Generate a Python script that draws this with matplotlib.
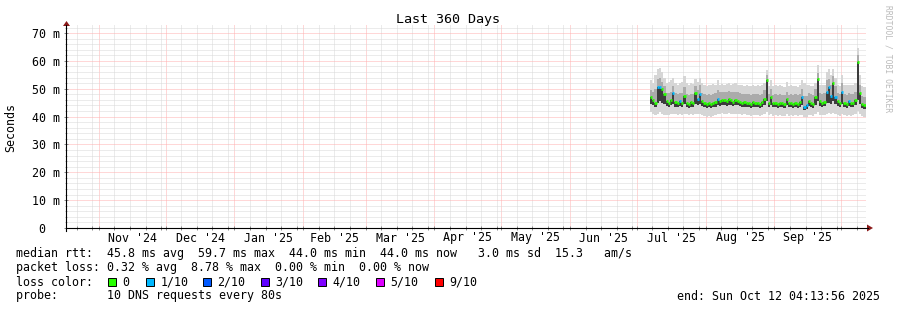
import numpy as np
import pandas as pd
import matplotlib
matplotlib.use("Agg")
import matplotlib.pyplot as plt
import matplotlib.dates as mdates
from matplotlib.patches import Rectangle, Polygon
from matplotlib.lines import Line2D
from matplotlib.transforms import Affine2D, blended_transform_factory
from datetime import datetime

# Graph window
graph_end = datetime(2025, 10, 12, 4, 13, 56)
graph_start = datetime(2024, 10, 17, 4, 13, 56)
first_day = "2025-07-07"

# Daily median rtt (ms) and smoke spread (ms)
median = [46.9, 46.0, 45.0, 50.5, 50.8, 50.0, 48.0, 45.5, 45.0, 45.8,
          48.5, 45.2, 44.8, 45.5, 45.0, 47.5, 45.0, 44.6, 45.2, 44.8,
          48.5, 46.5, 48.0, 45.5, 44.8, 44.5, 44.8, 44.6, 44.9, 45.2,
          46.5, 45.5, 45.8, 46.0, 45.6, 46.2, 45.8, 45.4, 46.0, 45.7,
          45.3, 45.0, 45.2, 44.8, 45.0, 44.7, 45.1, 44.9, 45.0, 44.6,
          45.2, 46.5, 53.0, 45.0, 47.0, 44.8, 44.9, 44.7, 45.0, 44.8,
          44.6, 46.5, 44.8, 45.0, 44.7, 44.9, 44.6, 45.2, 47.0, 43.5,
          44.0, 45.5, 45.0, 44.7, 47.0, 53.5, 45.5, 45.0, 45.3, 49.0,
          50.5, 47.5, 52.0, 47.0, 45.5, 44.8, 48.7, 45.0, 44.6, 45.5,
          44.8, 45.0, 46.0, 59.7, 48.4, 44.5, 44.0]
q_low = [44.5, 44.0, 43.5, 45.0, 45.5, 45.0, 44.5, 43.8, 43.5, 44.0,
         44.5, 43.6, 43.3, 43.8, 43.5, 44.5, 43.5, 43.2, 43.6, 43.3,
         44.5, 44.0, 44.5, 43.8, 43.3, 43.0, 43.3, 43.2, 43.4, 43.6,
         44.0, 43.8, 44.0, 44.2, 43.9, 44.3, 44.0, 43.8, 44.2, 44.0,
         43.7, 43.5, 43.6, 43.3, 43.5, 43.2, 43.5, 43.4, 43.5, 43.2,
         43.6, 44.0, 45.5, 43.5, 44.0, 43.3, 43.4, 43.2, 43.5, 43.3,
         43.2, 44.0, 43.3, 43.5, 43.2, 43.4, 43.2, 43.6, 44.0, 42.5,
         42.8, 43.8, 43.5, 43.2, 44.0, 45.5, 43.8, 43.5, 43.7, 45.0,
         45.0, 44.5, 45.5, 44.5, 43.8, 43.3, 44.5, 43.5, 43.2, 43.8,
         43.3, 43.5, 44.0, 46.0, 44.5, 43.0, 42.8]
q_high = [49.5, 49.0, 50.0, 53.5, 54.0, 52.5, 51.0, 48.5, 48.5, 49.0,
          51.0, 48.5, 48.0, 48.5, 48.5, 50.5, 48.0, 47.8, 48.2, 48.0,
          51.0, 49.5, 51.5, 48.5, 48.0, 47.8, 48.0, 47.8, 48.2, 48.5,
          49.5, 48.8, 49.0, 49.0, 48.8, 49.2, 49.0, 48.8, 49.0, 48.8,
          48.5, 48.3, 48.2, 48.0, 48.0, 47.8, 48.2, 48.0, 48.0, 47.8,
          48.3, 49.5, 55.0, 48.2, 50.0, 47.8, 48.0, 47.8, 48.0, 47.8,
          47.6, 49.0, 47.8, 48.0, 47.8, 48.0, 47.6, 48.2, 50.0, 47.5,
          47.5, 48.5, 48.0, 47.8, 50.0, 55.5, 48.5, 48.0, 48.5, 53.0,
          53.5, 51.5, 54.5, 51.0, 48.5, 48.0, 52.0, 48.2, 47.8, 48.5,
          48.0, 48.2, 49.0, 62.0, 51.5, 47.5, 47.0]
smoke_max = [53.0, 52.0, 55.0, 57.0, 57.5, 56.0, 54.0, 52.0, 52.5, 53.0,
             54.0, 52.0, 51.5, 52.0, 52.5, 54.5, 52.0, 51.5, 52.0, 51.8,
             53.5, 52.5, 54.0, 52.0, 51.5, 51.0, 51.5, 51.2, 51.8, 51.5,
             53.0, 51.5, 51.8, 51.5, 51.8, 52.0, 51.5, 51.8, 52.0, 51.5,
             51.5, 51.2, 51.0, 51.2, 51.0, 51.0, 51.2, 51.0, 51.2, 51.0,
             51.5, 52.0, 56.7, 51.0, 53.0, 51.0, 51.2, 51.0, 51.2, 51.0,
             50.8, 52.5, 51.0, 51.2, 51.0, 51.0, 50.8, 51.2, 53.0, 52.0,
             51.5, 51.2, 51.0, 51.0, 52.0, 58.5, 51.5, 51.5, 51.5, 56.0,
             57.0, 55.0, 57.0, 54.0, 51.5, 51.0, 55.0, 51.5, 51.2, 51.5,
             51.2, 51.5, 52.0, 64.6, 55.0, 51.0, 50.5]
smoke_min = [41.5, 41.0, 40.5, 41.0, 41.5, 41.0, 40.5, 40.5, 40.5, 41.0,
             41.0, 40.8, 40.5, 41.0, 40.5, 41.0, 40.8, 40.5, 40.8, 40.5,
             41.0, 40.8, 41.0, 40.5, 40.2, 40.0, 40.2, 40.0, 40.3, 40.5,
             40.8, 41.0, 41.2, 41.0, 41.0, 41.2, 41.0, 40.8, 41.0, 41.0,
             40.8, 40.6, 40.8, 40.5, 40.6, 40.4, 40.6, 40.5, 40.6, 40.4,
             40.7, 41.0, 41.5, 40.5, 40.8, 40.4, 40.5, 40.3, 40.5, 40.4,
             40.3, 40.8, 40.4, 40.5, 40.3, 40.5, 40.2, 40.6, 40.5, 39.8,
             40.0, 40.6, 40.5, 40.3, 40.8, 41.5, 40.6, 40.5, 40.6, 41.0,
             41.2, 41.0, 41.2, 40.8, 40.6, 40.4, 40.8, 40.5, 40.3, 40.6,
             40.4, 40.5, 40.8, 42.0, 41.0, 40.3, 40.0]
# lost pings out of 10 per day
loss = [0, 0, 0, 1, 1, 0, 0, 0, 0, 0,
        1, 0, 0, 1, 0, 0, 0, 0, 0, 0,
        0, 1, 1, 0, 0, 0, 0, 0, 0, 0,
        1, 0, 0, 0, 0, 0, 0, 0, 0, 0,
        0, 0, 0, 0, 0, 0, 0, 0, 0, 0,
        0, 0, 0, 0, 0, 0, 0, 0, 0, 0,
        0, 0, 0, 0, 0, 0, 0, 0, 1, 1,
        1, 0, 0, 0, 0, 0, 0, 0, 0, 1,
        1, 1, 0, 1, 0, 0, 1, 0, 0, 1,
        0, 0, 0, 0, 0, 0, 0]

loss_labels = ["0", "1/10", "2/10", "3/10", "4/10", "5/10", "9/10"]
loss_colors = ["#26ff00", "#00b8ff", "#0059ff", "#5e00ff", "#7e00ff", "#dd00ff", "#ff0000"]
loss_box_x = [108, 146, 203, 261, 318, 376, 435]

median_line = "median rtt:  45.8 ms avg  59.7 ms max  44.0 ms min  44.0 ms now   3.0 ms sd  15.3   am/s"
loss_line = "packet loss: 0.32 % avg  8.78 % max  0.00 % min  0.00 % now"
probe_line = "probe:       10 DNS requests every 80s"
end_line = "end: Sun Oct 12 04:13:56 2025"

W, H = 897, 310
plt.rcParams['font.family'] = 'DejaVu Sans Mono'
fs = 8.4

fig = plt.figure(figsize=(W / 100, H / 100), dpi=100)
fig.patch.set_facecolor('white')
# pixel coords, origin top-left
pix = Affine2D().scale(1 / W, -1 / H).translate(0, 1) + fig.transFigure

ax = fig.add_axes([66 / W, 1 - 228 / H, 800 / W, 203 / H])
ax.set_xlim(mdates.date2num(graph_start), mdates.date2num(graph_end))
ax.set_ylim(0, 72.9)
for s in ax.spines.values():
    s.set_visible(False)

# dotted grid
dot = (0, (1, 1))
gkw = dict(lw=0.72, ls=dot, zorder=1)
red_grid, gray_grid = '#ffb0b0', '#d8d8d8'
months = pd.date_range("2024-11-01", "2025-10-01", freq="MS")
minor_days = [d for d in pd.date_range("2024-10-17", "2025-10-12", freq="D") if d.day in (8, 15, 22, 29)]
for d in minor_days:
    ax.axvline(mdates.date2num(d), color=gray_grid, **gkw)
for d in months:
    ax.axvline(mdates.date2num(d), color=red_grid, **gkw)
for v in np.arange(2, 73, 2):
    ax.axhline(v, color=red_grid if v % 10 == 0 else gray_grid, **gkw)

# smoke
days = pd.date_range(first_day, periods=len(median) + 1, freq="D")
xs = mdates.date2num(days)
def ext(a):
    return np.append(a, a[-1])
ax.fill_between(xs, ext(smoke_min), ext(smoke_max), step='post', color='#d6d6d6', lw=0, zorder=2)
ax.fill_between(xs, ext(q_low), ext(q_high), step='post', color='#ababab', lw=0, zorder=3)
ax.fill_between(xs, ext(q_low), ext(median), step='post', color='#3c3c3c', lw=0, zorder=4)

# median coloured by loss
for i, m in enumerate(median):
    ax.hlines(m, xs[i], xs[i + 1], color=loss_colors[loss[i]], lw=2.0, zorder=5)

# ticks
ax.set_xticks(mdates.date2num(months))
ax.set_xticks(mdates.date2num(minor_days), minor=True)
ax.set_yticks(np.arange(0, 71, 10))
ax.set_yticks(np.arange(0, 73, 2), minor=True)
ax.set_yticklabels(["0  "] + [f"{v} m" for v in range(10, 71, 10)])
ax.tick_params(axis='x', which='both', labelbottom=False, direction='inout', length=3, width=0.7, color='#888888')
ax.tick_params(axis='y', which='major', direction='inout', length=3, width=0.7, color='#888888', pad=2.5, labelsize=fs)
ax.tick_params(axis='y', which='minor', direction='inout', length=2, width=0.7, color='#aaaaaa')

# month labels centred on each month
tr = blended_transform_factory(ax.transData, ax.transAxes)
for a, b in zip(months[:-1], months[1:]):
    mid = (mdates.date2num(a) + mdates.date2num(b)) / 2
    ax.text(mid, -10 / 203, a.strftime("%b '%y"), transform=tr, ha='center', va='center', fontsize=fs)

# axes lines and arrows
fig.add_artist(Line2D([66, 868], [228, 228], transform=pix, color='black', lw=0.8))
fig.add_artist(Line2D([66, 66], [231, 25], transform=pix, color='black', lw=0.8))
fig.add_artist(Polygon([[63, 26], [70, 26], [66.5, 21]], closed=True, transform=pix, color='#8b1a1a', lw=0))
fig.add_artist(Polygon([[867, 224.5], [867, 231.5], [873, 228]], closed=True, transform=pix, color='#8b1a1a', lw=0))

# texts
fig.text(448, 19, "Last 360 Days", transform=pix, ha='center', va='center', fontsize=9.6)
fig.text(11, 127, "Seconds", transform=pix, rotation=90, ha='center', va='center', fontsize=fs)
fig.text(888, 5, "RRDTOOL / TOBI OETIKER", transform=pix, rotation=270, ha='center', va='top',
         fontsize=5.8, color='#bbbbbb')

fig.text(16, 254, median_line, transform=pix, ha='left', va='center', fontsize=fs)
fig.text(16, 268, loss_line, transform=pix, ha='left', va='center', fontsize=fs)
fig.text(16, 282, "loss color:", transform=pix, ha='left', va='center', fontsize=fs)
for bx, lab, col in zip(loss_box_x, loss_labels, loss_colors):
    fig.add_artist(Rectangle((bx, 278), 8, 8, transform=pix, facecolor=col, edgecolor='black', lw=0.7))
    fig.text(bx + 14.5, 282, lab, transform=pix, ha='left', va='center', fontsize=fs)
fig.text(16, 296, probe_line, transform=pix, ha='left', va='center', fontsize=fs)
fig.text(880, 296, end_line, transform=pix, ha='right', va='center', fontsize=fs)

fig.savefig("out.png", dpi=100)
